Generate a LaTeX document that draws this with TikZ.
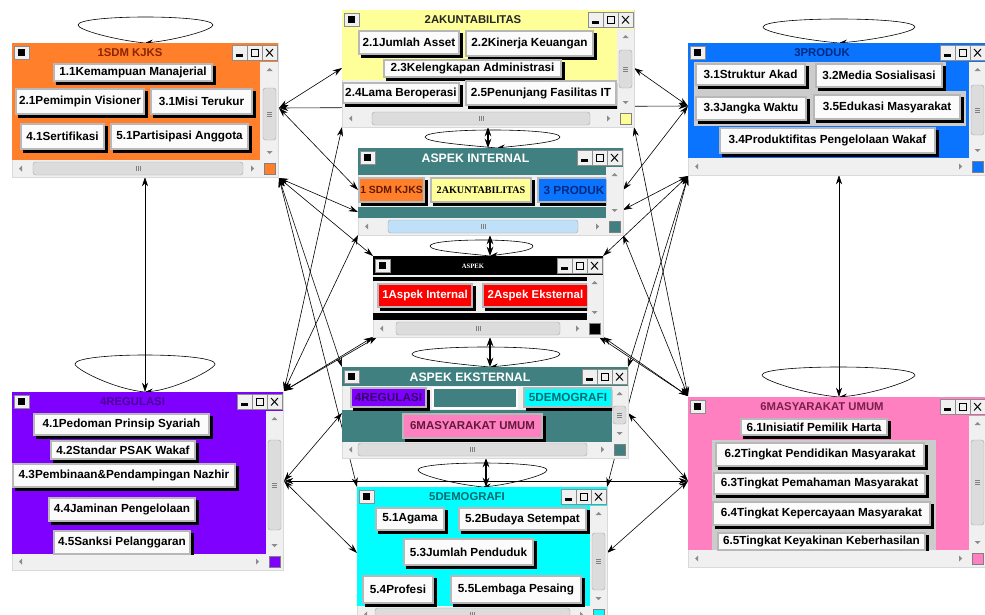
\documentclass[tikz,border=0pt]{standalone}
\usepackage{fontspec}
\newfontfamily\arialf{Liberation Sans}
\newfontfamily\timesf{Liberation Serif}
\usetikzlibrary{arrows.meta}

\definecolor{cOrange}{HTML}{FF7F2A}
\definecolor{cOrangeDark}{HTML}{8B2500}
\definecolor{cYellow}{HTML}{FFFF99}
\definecolor{cBlue}{HTML}{0A74FF}
\definecolor{cBlueDark}{HTML}{002A80}
\definecolor{cTeal}{HTML}{408080}
\definecolor{cPurple}{HTML}{8000FF}
\definecolor{cPurpleDark}{HTML}{4B0090}
\definecolor{cPink}{HTML}{FF80C0}
\definecolor{cPinkDark}{HTML}{7A1F4A}
\definecolor{cCyan}{HTML}{00FFFF}
\definecolor{cCyanDark}{HTML}{006A70}
\definecolor{cRed}{HTML}{FF0000}
\definecolor{cLightBlue}{HTML}{BFE0F8}
\definecolor{winGray}{HTML}{F0F0F0}
\definecolor{btnGray}{HTML}{B8B8B8}
\definecolor{btnWhite}{HTML}{FBFBFB}
\definecolor{thumbGray}{HTML}{DCDCDC}

\tikzset{
  btntext/.style={font=\arialf\bfseries\fontsize{8.8}{10}\selectfont, inner sep=0pt},
  titletext/.style={font=\arialf\bfseries\fontsize{8.5}{10}\selectfont, inner sep=0pt},
  conn/.style={line width=0.45pt, {Stealth[length=7pt,width=4.5pt]}-{Stealth[length=7pt,width=4.5pt]}},
  vconn/.style={line width=0.9pt, {Stealth[length=7pt,width=5pt]}-{Stealth[length=7pt,width=5pt]}},
  selfloop/.style={line width=0.45pt, -{Stealth[length=6pt,width=4pt]}},
  sysbtn/.style={fill=winGray, draw=black!45, line width=0.35pt},
}

% window frame: name, x1, y1, x2, y2, colour, title, title colour
\newcommand\mywin[8]{%
  \fill[winGray] (#2,#3) rectangle (#4,#5);
  \draw[line width=0.3pt, black!15] (#2,#3) rectangle (#4,#5);
  \fill[#6] (#2,#3) rectangle (#4,#3+19);
  \node[titletext, text=#8] (#1) at ({(#2+#4)/2-15},#3+10) {#7};
  \filldraw[sysbtn] (#2+2,#3+3) rectangle (#2+17,#3+16);
  \fill[black] (#2+6,#3+6) rectangle (#2+13,#3+13);
  \filldraw[sysbtn] (#4-46,#3+2) rectangle (#4-31,#3+17);
  \filldraw[sysbtn] (#4-31,#3+2) rectangle (#4-16,#3+17);
  \filldraw[sysbtn] (#4-16,#3+2) rectangle (#4-1,#3+17);
  \fill[black] (#4-42,#3+11) rectangle (#4-35,#3+13.5);
  \draw[black, line width=0.6pt] (#4-27,#3+6) rectangle (#4-20,#3+13.5);
  \draw[black, line width=0.9pt] (#4-27,#3+6.5) -- (#4-20,#3+6.5);
  \draw[black, line width=0.7pt] (#4-12,#3+6) -- (#4-5,#3+13.5) (#4-12,#3+13.5) -- (#4-5,#3+6);
  \fill[black!45] (#4-11.5,#3+28) -- (#4-5.5,#3+28) -- (#4-8.5,#3+25) -- cycle;
  \fill[black!45] (#4-11.5,#5-26) -- (#4-5.5,#5-26) -- (#4-8.5,#5-23) -- cycle;
  \fill[black!45] (#2+10,#5-11.5) -- (#2+10,#5-5.5) -- (#2+7,#5-8.5) -- cycle;
  \fill[black!45] (#4-27,#5-11.5) -- (#4-27,#5-5.5) -- (#4-24,#5-8.5) -- cycle;
  \filldraw[fill=#6, draw=black!50, line width=0.3pt] (#4-14,#5-14) rectangle (#4-3,#5-3);
}
% vertical scroll thumb: x2, ya, yb
\newcommand\myvthumb[3]{%
  \filldraw[fill=thumbGray, draw=black!35, line width=0.3pt, rounded corners=2pt] (#1-15,#2) rectangle (#1-2,#3);
  \draw[black!50, line width=0.3pt] (#1-11,{(#2+#3)/2-2}) -- (#1-6,{(#2+#3)/2-2})
    (#1-11,{(#2+#3)/2}) -- (#1-6,{(#2+#3)/2}) (#1-11,{(#2+#3)/2+2}) -- (#1-6,{(#2+#3)/2+2});
}
% horizontal scroll thumb: xa, xb, y2, colour
\newcommand\myhthumb[4]{%
  \filldraw[fill=#4, draw=black!35, line width=0.3pt, rounded corners=2pt] (#1,#3-15) rectangle (#2,#3-2);
  \draw[black!50, line width=0.3pt] ({(#1+#2)/2-2},#3-11) -- ({(#1+#2)/2-2},#3-6)
    ({(#1+#2)/2},#3-11) -- ({(#1+#2)/2},#3-6) ({(#1+#2)/2+2},#3-11) -- ({(#1+#2)/2+2},#3-6);
}
% button: [text colour] name, x1, y1, x2, y2, fill, text
\newcommand\mybtn[8][black]{%
  \fill[black] (#3+3,#4+3) rectangle (#5,#6);
  \fill[btnGray] (#3,#4) rectangle (#5-3,#6-3);
  \fill[#7] (#3+2,#4+2) rectangle (#5-5,#6-5);
  \node[btntext, text=#1] (#2) at ({(#3+#5)/2-1.5},{(#4+#6)/2-1.5}) {#8};
}
% self loop: L, R, top, end y, cx, point y
\newcommand\myloop[6]{%
  \draw[selfloop] (#5,#6) .. controls ({#5-0.45*(#5-#1)},#6-3) and (#1,#4+5) .. (#1,#4)
    .. controls (#1,{(4*#3-#4)/3}) and (#2,{(4*#3-#4)/3}) .. (#2,#4)
    .. controls (#2,#4+5) and ({#5+0.45*(#2-#5)},#6-3) .. (#5,#6);
}

\begin{document}
\begin{tikzpicture}[x=0.75pt, y=-0.75pt]
\useasboundingbox (0,0) rectangle (985,614);
\clip (0,0) rectangle (985,614);
\fill[white] (0,0) rectangle (985,614);

% ---------- connection points ----------
\coordinate (S1) at (279,108);
\coordinate (S2) at (279,178);
\coordinate (R1) at (284,391);
\coordinate (R2) at (284,481);
\coordinate (P1) at (688,106);
\coordinate (P2) at (688,176);
\coordinate (M1) at (688,396);
\coordinate (M2) at (688,481);
\coordinate (akL) at (342,68);
\coordinate (akR) at (634,68);
\coordinate (akBL) at (342,127);
\coordinate (akBR) at (634,127);
\coordinate (akB) at (488,127);
\coordinate (aiL) at (358,190);
\coordinate (aiL2) at (358,212);
\coordinate (aiR) at (623,190);
\coordinate (aiR2) at (623,210);
\coordinate (aiBL) at (358,235);
\coordinate (aiBR) at (623,235);
\coordinate (aiT) at (488,148);
\coordinate (aiB) at (490,235);
\coordinate (aspTL) at (373,256);
\coordinate (aspTR) at (603,256);
\coordinate (aspBL) at (373,337);
\coordinate (aspBL2) at (377,337);
\coordinate (aspBR) at (603,337);
\coordinate (aspBR2) at (599,337);
\coordinate (aspT) at (490,256);
\coordinate (aspB) at (490,337);
\coordinate (aeTL) at (342,367);
\coordinate (aeTR) at (628,367);
\coordinate (aeL) at (342,413);
\coordinate (aeR) at (628,413);
\coordinate (aeT) at (490,367);
\coordinate (aeB) at (486,458);
\coordinate (deTL) at (357,487);
\coordinate (deTR) at (607,487);
\coordinate (deL) at (357,553);
\coordinate (deR) at (607,553);
\coordinate (deT) at (486,487);
\coordinate (sdmB) at (145,177);
\coordinate (regT) at (145,392);
\coordinate (prB) at (839,175);
\coordinate (maT) at (839,397);

% ---------- connectors ----------
\draw[conn] (S1) -- (akL);
\draw[conn] (S1) -- (P1);
\draw[conn] (S1) -- (aiL);
\draw[conn] (S2) -- (aiL2);
\draw[conn] (S2) -- (aspTL);
\draw[conn] (S2) -- (aeTL);
\draw[conn] (S2) -- (deTL);
\draw[conn] (R1) -- (akBL);
\draw[conn] (R1) -- (aiBL);
\draw[conn] (R1) -- (aspBL);
\draw[conn] (R1) -- (aspBL2);
\draw[conn] (R2) -- (aeL);
\draw[conn] (R2) -- (M2);
\draw[conn] (R2) -- (deL);
\draw[conn] (P1) -- (akR);
\draw[conn] (P1) -- (aiR);
\draw[conn] (P2) -- (aiR2);
\draw[conn] (P2) -- (aspTR);
\draw[conn] (P2) -- (aeTR);
\draw[conn] (P2) -- (deTR);
\draw[conn] (M1) -- (akBR);
\draw[conn] (M1) -- (aiBR);
\draw[conn] (M1) -- (aspBR);
\draw[conn] (M1) -- (aspBR2);
\draw[conn] (M2) -- (aeR);
\draw[conn] (M2) -- (deR);
\draw[conn] (sdmB) -- (regT);
\draw[conn] (prB) -- (maT);
\draw[vconn] (akB) -- (aiT);
\draw[vconn] (aiB) -- (aspT);
\draw[vconn] (aspB) -- (aeT);
\draw[vconn] (aeB) -- (deT);

% ---------- self loops ----------
\myloop{78}{213}{17}{25}{145}{43}
\myloop{763}{915}{19}{27}{839}{43}
\myloop{425}{560}{130}{137}{497}{148}
\myloop{430}{533}{240}{246}{490}{256}
\myloop{412}{560}{347}{354}{490}{367}
\myloop{75}{215}{355}{364}{145}{392}
\myloop{762}{915}{367}{375}{839}{397}
\myloop{418}{547}{463}{470}{483}{487}

% ---------- 1SDM KJKS ----------
\mywin{wSDM}{12}{43}{278}{177}{cOrange}{1SDM KJKS}{cOrangeDark}
\begin{scope}
\clip (12,62) rectangle (260,160);
\fill[cOrange] (12,62) rectangle (260,160);
\mybtn{b11}{53}{63}{216}{85}{btnWhite}{1.1Kemampuan Manajerial}
\mybtn{b21}{15}{88}{148}{118}{btnWhite}{2.1Pemimpin Visioner}
\mybtn{b31}{150}{88}{256}{118}{btnWhite}{3.1Misi Terukur}
\mybtn{b41}{20}{123}{108}{153}{btnWhite}{4.1Sertifikasi}
\mybtn{b51}{110}{123}{252}{153}{btnWhite}{5.1Partisipasi Anggota}
\end{scope}
\myvthumb{278}{88}{140}
\myhthumb{33}{243}{177}{thumbGray}

% ---------- 2AKUNTABILITAS ----------
\mywin{wAK}{342}{10}{634}{127}{cYellow}{2AKUNTABILITAS}{black!85}
\begin{scope}
\clip (342,29) rectangle (617,110);
\fill[cYellow] (342,29) rectangle (617,80);
\mybtn{b21a}{358}{30}{463}{58}{btnWhite}{2.1Jumlah Asset}
\mybtn{b22}{465}{30}{597}{60}{btnWhite}{2.2Kinerja Keuangan}
\mybtn{b23}{383}{59}{565}{81}{btnWhite}{2.3Kelengkapan Administrasi}
\mybtn{b24}{342}{82}{463}{107}{btnWhite}{2.4Lama Beroperasi}
\mybtn{b25}{465}{80}{620}{109}{btnWhite}{2.5Penunjang Fasilitas IT}
\end{scope}
\myvthumb{634}{50}{88}
\myhthumb{372}{590}{127}{thumbGray}

% ---------- 3PRODUK ----------
\mywin{wPR}{688}{43}{986}{175}{cBlue}{3PRODUK}{cBlueDark}
\begin{scope}
\clip (688,62) rectangle (969,158);
\fill[cBlue] (688,62) rectangle (969,158);
\fill[winGray!85!black] (694,62) rectangle (946,91);
\fill[winGray!85!black] (694,91) rectangle (966,126);
\mybtn{b31a}{695}{63}{809}{89}{btnWhite}{3.1Struktur Akad}
\mybtn{b32}{815}{63}{946}{91}{btnWhite}{3.2Media Sosialisasi}
\mybtn{b33}{695}{96}{810}{124}{btnWhite}{3.3Jangka Waktu}
\mybtn{b35}{813}{94}{964}{123}{btnWhite}{3.5Edukasi Masyarakat}
\mybtn{b34}{719}{127}{939}{157}{btnWhite}{3.4Produktifitas Pengelolaan Wakaf}
\end{scope}
\myvthumb{986}{85}{135}

% ---------- ASPEK INTERNAL ----------
\mywin{wAI}{358}{148}{623}{235}{cTeal}{\fontsize{9.2}{11}\selectfont ASPEK INTERNAL}{white}
\begin{scope}
\clip (358,167) rectangle (606,218);
\fill[cTeal] (358,167) rectangle (606,175);
\fill[cTeal] (358,207) rectangle (606,218);
\mybtn[cOrangeDark!70!black]{ai1}{358}{177}{428}{206}{cOrange}{\fontsize{7.8}{9}\selectfont 1 SDM KJKS}
\mybtn{ai2}{430}{177}{535}{206}{cYellow}{\timesf\bfseries\fontsize{7.6}{9}\selectfont 2AKUNTABILITAS}
\mybtn[cBlueDark]{ai3}{537}{177}{614}{206}{cBlue}{\fontsize{8.8}{10}\selectfont 3 PRODUK}
\end{scope}
\myhthumb{388}{578}{235}{cLightBlue}

% ---------- ASPEK ----------
\mywin{wASP}{373}{256}{603}{337}{black}{\timesf\bfseries\fontsize{5}{6}\selectfont ASPEK}{white}
\begin{scope}
\clip (373,275) rectangle (587,321);
\fill[black] (373,277) rectangle (587,281);
\fill[black] (373,313) rectangle (587,320);
\mybtn[white]{asp1}{377}{283}{476}{311}{cRed}{\fontsize{8.6}{10}\selectfont 1Aspek Internal}
\mybtn[white]{asp2}{482}{283}{592}{311}{cRed}{\fontsize{8.6}{10}\selectfont 2Aspek Eksternal}
\end{scope}
\myhthumb{396}{560}{337}{thumbGray}

% ---------- ASPEK EKSTERNAL ----------
\mywin{wAE}{342}{367}{628}{458}{cTeal}{\fontsize{9.2}{11}\selectfont ASPEK EKSTERNAL}{white}
\begin{scope}
\clip (342,386) rectangle (612,442);
\fill[cTeal] (342,410) rectangle (612,442);
\mybtn[cPurpleDark!70!black]{ae4}{350}{387}{430}{411}{cPurple}{\fontsize{8.8}{10}\selectfont 4REGULASI}
\filldraw[fill=cTeal, draw=white, line width=1.2pt] (433,388) rectangle (517,408);
\mybtn[cCyanDark]{ae5}{523}{387}{616}{411}{cCyan}{\fontsize{8.8}{10}\selectfont 5DEMOGRAFI}
\mybtn[cPinkDark!80!black]{ae6}{402}{413}{546}{442}{cPink}{\fontsize{8.6}{10}\selectfont 6MASYARAKAT UMUM}
\end{scope}
\myvthumb{628}{406}{424}
\myhthumb{358}{587}{458}{thumbGray}

% ---------- 4REGULASI ----------
\mywin{wREG}{12}{392}{283}{570}{cPurple}{4REGULASI}{cPurpleDark}
\begin{scope}
\clip (12,411) rectangle (266,554);
\fill[cPurple] (12,411) rectangle (266,554);
\mybtn{r41}{33}{413}{213}{439}{btnWhite}{4.1Pedoman Prinsip Syariah}
\mybtn{r42}{50}{440}{199}{463}{btnWhite}{4.2Standar PSAK Wakaf}
\mybtn{r43}{12}{463}{239}{491}{btnWhite}{4.3Pembinaan\&Pendampingan Nazhir}
\mybtn{r44}{48}{497}{199}{525}{btnWhite}{4.4Jaminan Pengelolaan}
\mybtn{r45}{53}{530}{194}{558}{btnWhite}{4.5Sanksi Pelanggaran}
\end{scope}
\myvthumb{283}{440}{530}

% ---------- 6MASYARAKAT UMUM ----------
\mywin{wMA}{688}{397}{986}{567}{cPink}{6MASYARAKAT UMUM}{cPinkDark}
\begin{scope}
\clip (688,416) rectangle (969,550);
\fill[cPink] (688,416) rectangle (969,550);
\fill[winGray!85!black] (712,440) rectangle (936,550);
\mybtn{m61}{740}{418}{891}{439}{btnWhite}{6.1Inisiatif Pemilik Harta}
\mybtn{m62}{715}{442}{928}{470}{btnWhite}{6.2Tingkat Pendidikan Masyarakat}
\mybtn{m63}{713}{472}{929}{498}{btnWhite}{6.3Tingkat Pemahaman Masyarakat}
\mybtn{m64}{712}{501}{934}{529}{btnWhite}{6.4Tingkat Kepercayaan Masyarakat}
\mybtn{m65}{717}{532}{929}{554}{btnWhite}{6.5Tingkat Keyakinan Keberhasilan}
\end{scope}
\myvthumb{986}{440}{525}

% ---------- 5DEMOGRAFI ----------
\mywin{wDE}{357}{487}{607}{623}{cCyan}{5DEMOGRAFI}{cCyanDark}
\begin{scope}
\clip (357,506) rectangle (590,606);
\fill[cCyan] (357,506) rectangle (590,606);
\mybtn{d51}{375}{507}{448}{534}{btnWhite}{5.1Agama}
\mybtn{d52}{458}{507}{590}{534}{btnWhite}{5.2Budaya Setempat}
\mybtn{d53}{403}{538}{537}{569}{btnWhite}{5.3Jumlah Penduduk}
\mybtn{d54}{362}{575}{437}{607}{btnWhite}{5.4Profesi}
\mybtn{d55}{450}{575}{585}{607}{btnWhite}{5.5Lembaga Pesaing}
\end{scope}
\myvthumb{607}{533}{590}
\myhthumb{375}{570}{623}{thumbGray}
\end{tikzpicture}
\end{document}
